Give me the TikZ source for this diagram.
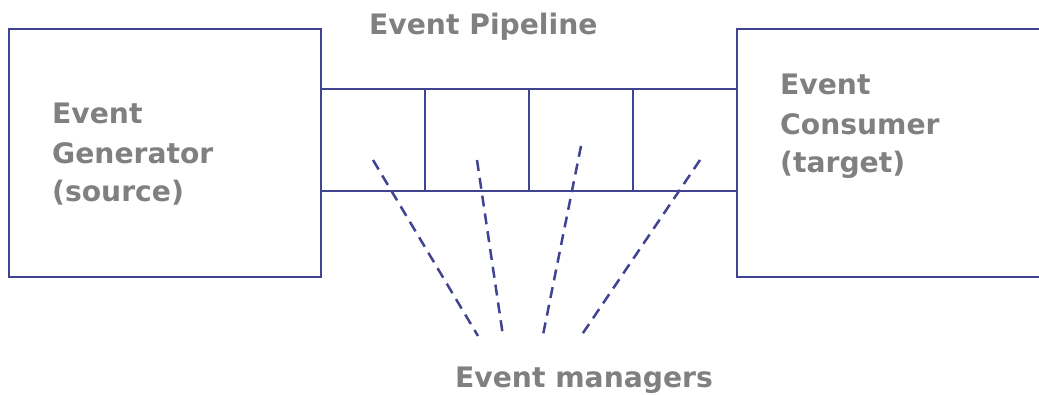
\documentclass[tikz,border=0pt]{standalone}
\usepackage{fontspec}
\setmainfont{DejaVu Sans}
\usetikzlibrary{calc}
\definecolor{linecol}{RGB}{64,66,146}
\definecolor{labelgray}{RGB}{128,128,128}
\begin{document}
\begin{tikzpicture}[x=1pt,y=-1pt,
  frame/.style={draw=linecol, line width=2.4pt, inner sep=0pt, outer sep=0pt, anchor=north west},
  label/.style={text=labelgray, font=\bfseries\fontsize{28.2}{38}\selectfont, inner sep=0pt, anchor=base west},
  manager/.style={draw=linecol, line width=2.5pt, dash pattern=on 11pt off 7pt}]
\useasboundingbox (0,0) rectangle (1039,395);
\clip (0,0) rectangle (1039,395);

% source and target blocks
\node[frame, minimum width=312pt, minimum height=248pt] (gen) at (9,29) {};
\node[frame, minimum width=330pt, minimum height=248pt] (con) at (737,29) {};

% pipeline with four slots
\node[frame, minimum width=416pt, minimum height=102pt] (pipe) at (321,89) {};
\foreach \i in {1,2,3} {
  \draw[linecol, line width=2.4pt] ($(pipe.north west)!\i/4!(pipe.north east)$) -- ($(pipe.south west)!\i/4!(pipe.south east)$);
}

% labels
\node[label] (gen1) at (52,124) {Event};
\node[label] (gen2) at (52,164) {Generator};
\node[label] (gen3) at (52,202) {(source)};

\node[label] (con1) at (780,95) {Event};
\node[label] (con2) at (780,135) {Consumer};
\begin{scope}
  \clip (737,0) rectangle (1039,177.5);
  \node[label] (con3) at (780,173) {(target)};
\end{scope}

\node[label] (pipetitle) at (369,35) {Event Pipeline};
\node[label] (mgrs) at (455,387) {Event managers};

% event manager links
\coordinate (m1a) at (373,160); \coordinate (m1b) at (478,336);
\coordinate (m2a) at (477,160); \coordinate (m2b) at (503,336);
\coordinate (m3a) at (581,146); \coordinate (m3b) at (543,335);
\coordinate (m4a) at (700,160); \coordinate (m4b) at (581,336);
\draw[manager] (m1a) -- (m1b);
\draw[manager] (m2a) -- (m2b);
\draw[manager] (m3a) -- (m3b);
\draw[manager] (m4a) -- (m4b);
\end{tikzpicture}
\end{document}
